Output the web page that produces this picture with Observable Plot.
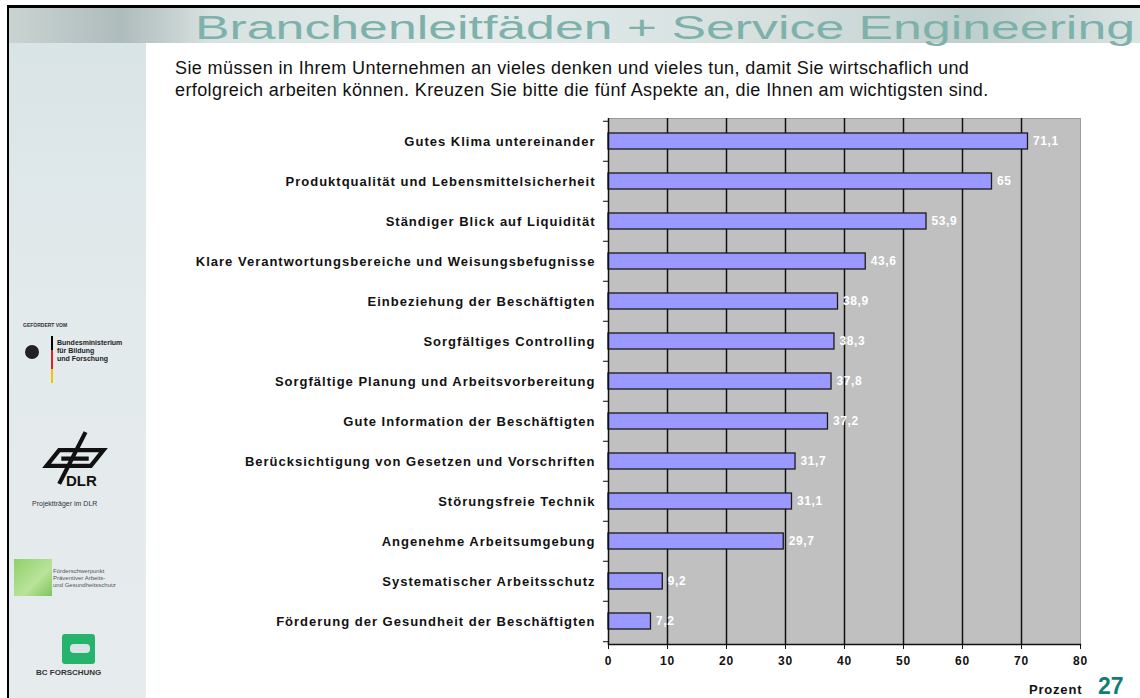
<!DOCTYPE html>
<html>
<head>
<meta charset="utf-8">
<script src="https://cdn.jsdelivr.net/npm/d3@7"></script>
<script src="https://cdn.jsdelivr.net/npm/@observablehq/plot@0.6"></script>
<style>
  html, body { margin: 0; padding: 0; background: #fff; }
  #page { position: relative; width: 1140px; height: 698px; overflow: hidden; background: #fff; font-family: "Liberation Sans", Arial, sans-serif; }
  #topline { position: absolute; left: 8px; top: 5px; width: 1132px; height: 3px; background: #000; }
  #leftline { position: absolute; left: 7px; top: 5px; width: 2px; height: 693px; background: #000; }
  #header { position: absolute; left: 9px; top: 8px; width: 1131px; height: 35px;
    background: linear-gradient(90deg, #c9d3d2 0%, #aebcbb 10%, #d8e2e1 18%, #e4ecec 40%, #d3dedd 70%, #bfcfcd 85%, #d9e3e2 100%); }
  #header svg { position: absolute; left: 0; top: 0; overflow: visible; }
  #leftpanel { position: absolute; left: 9px; top: 43px; width: 137px; height: 655px;
    background: linear-gradient(180deg, #d9e4e6 0%, #e3eaec 40%, #e6ecee 100%); }
  #subtitle { position: absolute; left: 175px; top: 57px; font-size: 18px; line-height: 22px; color: #111; letter-spacing: 0.4px; white-space: nowrap; }
  #chart { position: absolute; left: 0; top: 100px; }
  #prozent { position: absolute; left: 1029px; top: 682px; font-size: 13px; font-weight: bold; color: #111; letter-spacing: 0.8px; }
  #pagenum { position: absolute; left: 1098px; top: 673px; font-size: 23px; font-weight: bold; color: #0f7f73; }
  .logo { position: absolute; font-family: "Liberation Sans", Arial, sans-serif; }
</style>
</head>
<body>
<div id="page">
  <div id="header">
    <svg width="1131" height="35">
      <text x="186" y="31" font-family="Liberation Sans, Arial, sans-serif" font-size="34" fill="#7fb1ab" textLength="940" lengthAdjust="spacingAndGlyphs">Branchenleitfäden + Service Engineering</text>
    </svg>
  </div>
  <div id="topline"></div>
  <div id="leftline"></div>
  <div id="leftpanel">
    <div class="logo" style="left:14px; top:279px; font-size:5px; font-weight:bold; color:#333;">GEFÖRDERT VOM</div>
    <div class="logo" style="left:16px; top:302px; width:14px; height:14px; border-radius:7px; background:#222;"></div>
    <div class="logo" style="left:42px; top:293px; width:2px; height:14px; background:#000;"></div>
    <div class="logo" style="left:42px; top:307px; width:2px; height:19px; background:#d22;"></div>
    <div class="logo" style="left:42px; top:326px; width:2px; height:14px; background:#f0c400;"></div>
    <div class="logo" style="left:48px; top:296px; font-size:7px; font-weight:bold; line-height:8px; color:#222;">Bundesministerium<br>für Bildung<br>und Forschung</div>
    <svg class="logo" style="left:28px; top:386px;" width="76" height="58" viewBox="0 0 70 55">
      <path d="M45 3 L20 52 M8 35 L50 35 L62 20 L20 20 Z M22 28 L48 28" stroke="#111" stroke-width="4" fill="none"/>
    </svg>
    <div class="logo" style="left:57px; top:429px; font-size:15px; font-weight:bold; color:#111;">DLR</div>
    <div class="logo" style="left:23px; top:457px; font-size:7px; color:#333;">Projektträger im DLR</div>
    <div class="logo" style="left:5px; top:516px; width:38px; height:37px; background:linear-gradient(135deg,#8fd06a,#b9e39a 60%,#7cc55a);"></div>
    <div class="logo" style="left:44px; top:525px; font-size:6px; line-height:7px; color:#555;">Förderschwerpunkt<br>Präventiver Arbeits-<br>und Gesundheitsschutz</div>
    <div class="logo" style="left:53px; top:591px; width:33px; height:30px; background:#26b36b; border-radius:3px;"></div>
    <div class="logo" style="left:61px; top:601px; width:20px; height:9px; background:#d9e4e6; border-radius:4px;"></div>
    <div class="logo" style="left:27px; top:625px; font-size:8px; font-weight:bold; color:#333;">BC FORSCHUNG</div>
  </div>
  <div id="subtitle">Sie müssen in Ihrem Unternehmen an vieles denken und vieles tun, damit Sie wirtschaflich und<br>erfolgreich arbeiten können. Kreuzen Sie bitte die fünf Aspekte an, die Ihnen am wichtigsten sind.</div>
  <div id="chart"></div>
  <div id="prozent">Prozent</div>
  <div id="pagenum">27</div>
</div>
<script>
const categories = [
  "Gutes Klima untereinander",
  "Produktqualität und Lebensmittelsicherheit",
  "Ständiger Blick auf Liquidität",
  "Klare Verantwortungsbereiche und Weisungsbefugnisse",
  "Einbeziehung der Beschäftigten",
  "Sorgfältiges Controlling",
  "Sorgfältige Planung und Arbeitsvorbereitung",
  "Gute Information der Beschäftigten",
  "Berücksichtigung von Gesetzen und Vorschriften",
  "Störungsfreie Technik",
  "Angenehme Arbeitsumgebung",
  "Systematischer Arbeitsschutz",
  "Förderung der Gesundheit der Beschäftigten"
];
const values = [71.1, 65, 53.9, 43.6, 38.9, 38.3, 37.8, 37.2, 31.7, 31.1, 29.7, 9.2, 7.2];
const xTicks = [0, 10, 20, 30, 40, 50, 60, 70, 80];

const data = categories.map((c, i) => ({category: c, value: values[i]}));
const fmt = v => String(v).replace(".", ",");

const W = 1140, H = 580, mt = 18, mb = 36, ml = 608, mr = 60;
const step = (H - mt - mb) / categories.length;

const chart = Plot.plot({
  width: W, height: H,
  marginLeft: ml, marginRight: mr, marginTop: mt, marginBottom: mb,
  x: {domain: [0, 80]},
  y: {domain: categories, paddingInner: 0.6, paddingOuter: 0.3},
  style: {fontFamily: "Liberation Sans, Arial, sans-serif", background: "transparent", color: "#111", overflow: "visible"},
  marks: [
    Plot.frame({fill: "#c0c0c0", stroke: "#9a9a9a"}),
    Plot.ruleX(xTicks.slice(1, -1), {stroke: "#111", strokeWidth: 1.5}),
    Plot.barX(data, {x: "value", y: "category", fill: "#9999ff", stroke: "#1a1a1a", strokeWidth: 1.3}),
    Plot.text(data, {x: "value", y: "category", text: d => fmt(d.value), dx: 5, textAnchor: "start", fill: "white", fontWeight: "bold", fontSize: 12, stroke: null}),
    Plot.ruleX([0], {stroke: "#111", strokeWidth: 1.5}),
    Plot.frame({anchor: "bottom", stroke: "#111", strokeWidth: 1.5}),
    Plot.axisX({ticks: xTicks, tickSize: 5, tickPadding: 7, label: null, fontWeight: "bold", fontSize: 12, stroke: "#111"}),
    Plot.axisY({tickSize: 0, tickPadding: 13, label: null, fontWeight: "bold", fontSize: 13}),
    Plot.axisY({tickSize: 5, tickFormat: () => "", dy: -step / 2, label: null, stroke: "#111"}),
    Plot.axisY([categories[categories.length - 1]], {tickSize: 5, tickFormat: () => "", dy: step / 2, label: null, stroke: "#111"})
  ]
});
document.getElementById("chart").appendChild(chart);
// widen the tracking of the text like the original slide
d3.select(chart).selectAll("g[aria-label='y-axis tick label'] text").attr("letter-spacing", "1px");
d3.select(chart).selectAll("g[aria-label='x-axis tick label'] text").attr("letter-spacing", "0.8px");
d3.select(chart).selectAll("g[aria-label='text'] text").attr("letter-spacing", "0.6px");
</script>
</body>
</html>
